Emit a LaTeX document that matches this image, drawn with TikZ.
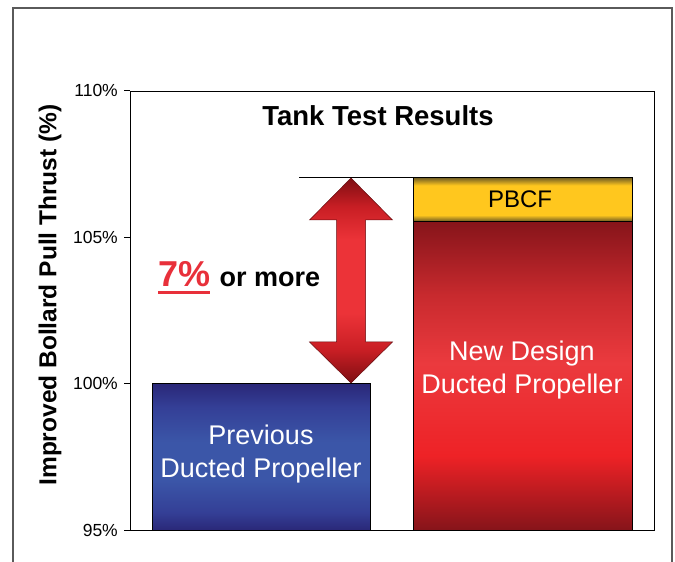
\documentclass[tikz,border=0pt]{standalone}
\usepackage{fontspec}
\setmainfont{Liberation Sans}
\usetikzlibrary{positioning}

% colours
\definecolor{framegray}{HTML}{5A5A5A}
\definecolor{bbdark}{HTML}{2A2878}
\definecolor{bbmid}{HTML}{343F96}
\definecolor{bblight}{HTML}{3B56A8}
\definecolor{rbdark}{HTML}{86141A}
\definecolor{rbmid}{HTML}{C82A2E}
\definecolor{rbsoft}{HTML}{EB3A3E}
\definecolor{rbbright}{HTML}{EE2226}
\definecolor{gdark}{HTML}{6F5C24}
\definecolor{gbright}{HTML}{FFC71E}
\definecolor{adark}{HTML}{7E0E12}
\definecolor{amid}{HTML}{C81E24}
\definecolor{abright}{HTML}{EC3338}
\definecolor{gainred}{HTML}{E8303A}

% vertical shadings (bottom = 25bp, top = 75bp)
\pgfdeclareverticalshading{bluebar}{100bp}{color(0bp)=(bbdark); color(25bp)=(bbdark);
  color(31bp)=(bbmid); color(42bp)=(bblight); color(55bp)=(bblight);
  color(67bp)=(bbmid); color(75bp)=(bbdark); color(100bp)=(bbdark)}
\pgfdeclareverticalshading{redbar}{100bp}{color(0bp)=(rbdark); color(25bp)=(rbdark);
  color(37bp)=(rbbright); color(52bp)=(rbsoft); color(63bp)=(rbmid);
  color(75bp)=(rbdark); color(100bp)=(rbdark)}
\pgfdeclareverticalshading{goldbar}{100bp}{color(0bp)=(gdark); color(25bp)=(gdark);
  color(32bp)=(gbright); color(66bp)=(gbright); color(75bp)=(gdark); color(100bp)=(gdark)}
\pgfdeclareverticalshading{gainarrow}{100bp}{color(0bp)=(adark); color(25bp)=(adark);
  color(33bp)=(amid); color(42bp)=(abright); color(60bp)=(abright);
  color(68bp)=(amid); color(75bp)=(adark); color(100bp)=(adark)}

\begin{document}
\begin{tikzpicture}[x=1pt,y=1pt,
    tick label/.style={anchor=east, inner sep=1pt, font=\fontsize{17.5}{17.5}\selectfont},
    bar text/.style={align=center, text=white, font=\fontsize{27}{33.5}\selectfont},
    bar edge/.style={draw=black, line width=0.9pt}]

    \useasboundingbox (0,0) rectangle (675,562);

    % outer frame, open at the bottom
    \draw[framegray, line width=1.4pt] (13,-2) -- (13,554) -- (672,554) -- (672,-2);

    % plot area: 95% at y=32, 110% at y=471 (29.3 per percent)
    \coordinate (pa) at (130,32);
    \coordinate (pb) at (654,471);
    \draw[line width=0.8pt] (pa) rectangle (pb);

    % ticks and their labels
    \foreach \v in {95,100,105,110} {
        \draw[line width=0.6pt] (124,{32+(\v-95)*29.3}) -- (130,{32+(\v-95)*29.3});
        \node[tick label] (t\v) at (119,{32+(\v-95)*29.3}) {\v\%};
    }

    % axis title and chart title
    \node[rotate=90, font=\bfseries\fontsize{24.5}{24.5}\selectfont] (ylab) at (50,267)
        {Improved Bollard Pull Thrust (\%)};
    \node[font=\bfseries\fontsize{27.5}{27.5}\selectfont] (title) at (378,446) {Tank Test Results};

    % bars
    \shadedraw[shading=bluebar, bar edge] (152,32) rectangle (370,178.5);
    \shadedraw[shading=redbar, bar edge] (413,32) rectangle (632,340.8);
    \shadedraw[shading=goldbar, bar edge] (413,340.8) rectangle (632,384.5);

    \node[bar text] (prev) at (261,108) {Previous\\Ducted Propeller};
    \node[bar text] (newd) at (522,192) {New Design\\Ducted Propeller};
    \node[font=\fontsize{24}{24}\selectfont] (pbcf) at (520,363) {PBCF};

    % level line and double arrow between 100% and 107%
    \coordinate (lvl) at (299,384.5);
    \coordinate (lvlend) at (413,384.5);
    \draw[line width=0.7pt] (lvl) -- (lvlend);
    \shadedraw[shading=gainarrow, draw=adark!80!black, line width=0.5pt]
        (351,384) -- (392.5,342) -- (365.5,342) -- (365.5,220) -- (392.5,220)
        -- (351,179) -- (309.5,220) -- (336.5,220) -- (336.5,342) -- (309.5,342) -- cycle;

    % gain label
    \node[anchor=base west, inner sep=0pt, text=gainred,
          font=\bfseries\fontsize{36}{36}\selectfont] (pct) at (158,275) {7\%};
    \node[base right=9pt of pct, inner sep=0pt,
          font=\bfseries\fontsize{27}{27}\selectfont] (more) {or more};
    \draw[gainred, line width=3pt] ([yshift=-6pt]pct.base west) -- ([yshift=-6pt]pct.base east);
\end{tikzpicture}
\end{document}
